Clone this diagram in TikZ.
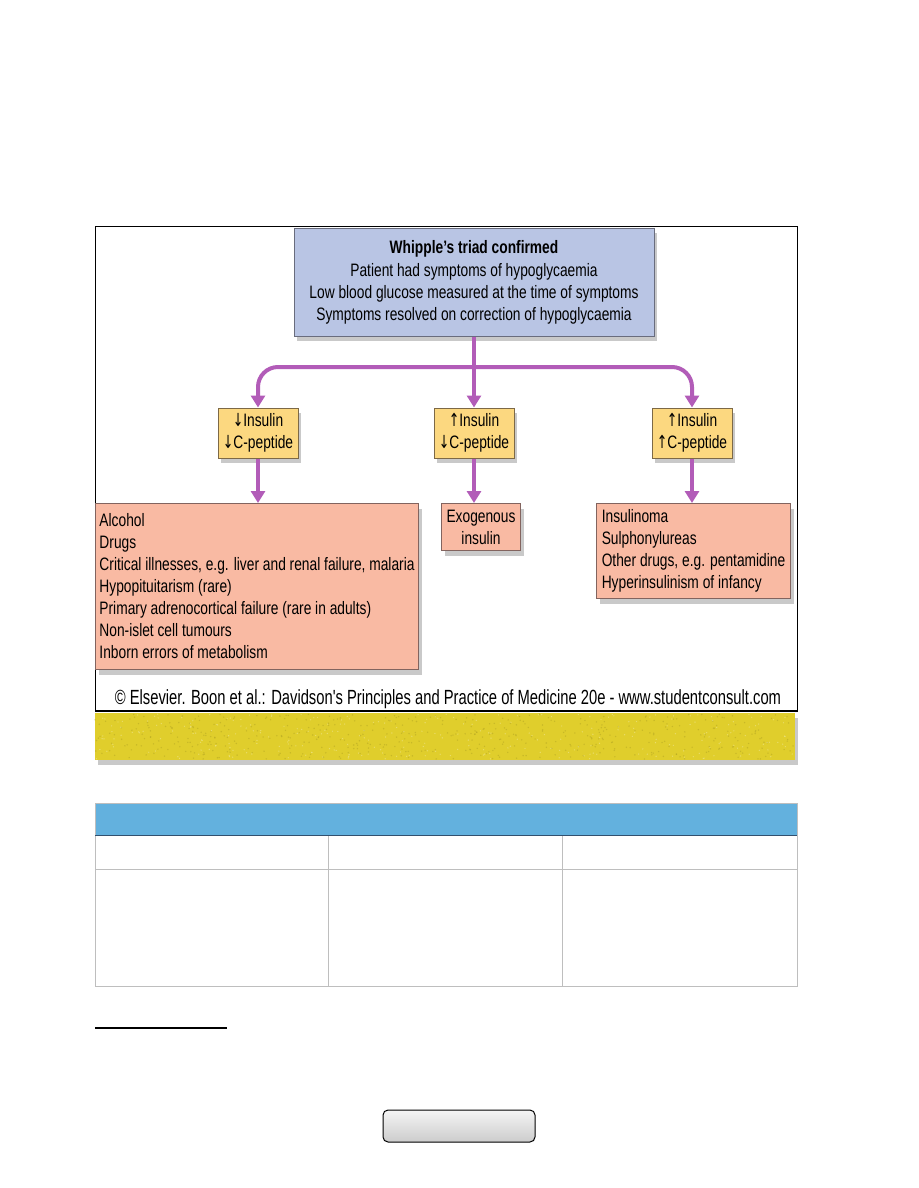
\documentclass[tikz,border=0pt]{standalone}
\usepackage{fontspec}
\setmainfont[FakeStretch=0.765]{Liberation Sans}
\newfontfamily\creditfont[FakeStretch=0.72]{Liberation Sans}
\newfontfamily\arrowfont[FakeStretch=0.7]{DejaVu Sans}
\newcommand\up{{\arrowfont ↑}}
\newcommand\dn{{\arrowfont ↓}}
\usetikzlibrary{arrows.meta,shadows}

\definecolor{triadfill}{RGB}{185,197,228}
\definecolor{triadline}{RGB}{105,108,125}
\definecolor{levelfill}{RGB}{252,216,128}
\definecolor{levelline}{RGB}{125,105,70}
\definecolor{causefill}{RGB}{249,186,163}
\definecolor{causeline}{RGB}{130,100,95}
\definecolor{linkpurple}{RGB}{178,92,184}
\definecolor{banneryellow}{RGB}{224,206,44}
\definecolor{headblue}{RGB}{99,177,222}
\definecolor{headline}{RGB}{50,80,110}
\definecolor{gridgray}{RGB}{190,190,190}

\tikzset{
  boxshadow/.style={drop shadow={shadow xshift=3pt,shadow yshift=-5pt,opacity=0.3,fill=black!70}},
  triadbox/.style={draw=triadline,fill=triadfill,line width=1pt,boxshadow,
    minimum width=360,minimum height=108,inner sep=0,align=center},
  levelbox/.style={draw=levelline,fill=levelfill,line width=1pt,boxshadow,
    minimum width=80,minimum height=50,inner sep=0,align=center},
  causebox/.style={draw=causeline,fill=causefill,line width=1pt,boxshadow,
    inner sep=0,align=left},
  link/.style={draw=linkpurple,line width=4pt,-{Triangle[length=12pt,width=14pt]}},
  button/.style={draw=black,line width=1pt,rounded corners=5pt,
    top color=gray!8,bottom color=gray!40,minimum width=152,minimum height=32}
}

\begin{document}
\begin{tikzpicture}[x=1pt,y=-1pt,font=\fontsize{18}{22}\selectfont]
\useasboundingbox (0,0) rectangle (918,1188);

% figure frame
\draw[line width=1pt] (95,226) rectangle (797,711);
\draw[line width=2pt] (95,711) -- (797,711);

\node (triad) [triadbox] at (474,282)
  {\textbf{Whipple’s triad confirmed}\\[1pt]
   Patient had symptoms of hypoglycaemia\\
   Low blood glucose measured at the time of symptoms\\
   Symptoms resolved on correction of hypoglycaemia};

\node (ins1) [levelbox] at (258,433) {\dn Insulin\\\dn C-peptide};
\node (ins2) [levelbox] at (474,433) {\up Insulin\\\dn C-peptide};
\node (ins3) [levelbox] at (692,433) {\up Insulin\\\up C-peptide};

\node (lowall) [causebox,minimum width=323,minimum height=166,anchor=north west] at (95,503)
  {Alcohol\\
   Drugs\\
   Critical illnesses, e.g. liver and renal failure, malaria\\
   Hypopituitarism (rare)\\
   Primary adrenocortical failure (rare in adults)\\
   Non-islet cell tumours\\
   Inborn errors of metabolism};
\node (exo) [causebox,align=center,minimum width=79,minimum height=47,anchor=north west] at (441,503)
  {Exogenous\\insulin};
\node (endo) [causebox,minimum width=194,minimum height=95,anchor=north west] at (596,503)
  {Insulinoma\\
   Sulphonylureas\\
   Other drugs, e.g. pentamidine\\
   Hyperinsulinism of infancy};

% branching connectors
\coordinate (fork) at (474,367);
\draw[link,-] (triad.south) -- (fork);
\draw[link,rounded corners=20pt] (fork) -| (ins1.north);
\draw[link,rounded corners=20pt] (fork) -| (ins3.north);
\draw[link] (fork) -- (ins2.north);

\draw[link] (ins1.south) -- (ins1.south |- lowall.north);
\draw[link] (ins2.south) -- (ins2.south |- exo.north);
\draw[link] (ins3.south) -- (ins3.south |- endo.north);

\node (credit) [font=\creditfont\fontsize{20.5}{22}\selectfont] at (448,699)
  {© Elsevier. Boon et al.: Davidson's Principles and Practice of Medicine 20e - www.studentconsult.com};

% yellow banner, speckled
\path[fill=banneryellow,boxshadow] (95,713) rectangle (795,760);
\pgfmathsetseed{7}
\foreach \i in {1,...,500}
  \fill[banneryellow!70!black,opacity=0.35] (95+700*rnd,714+45*rnd) circle (0.8);
\foreach \i in {1,...,300}
  \fill[white,opacity=0.3] (95+700*rnd,714+45*rnd) circle (0.7);

% empty table
\fill[headblue] (95,803) rectangle (797,835);
\draw[gridgray] (95,803) rectangle (797,986);
\draw[gridgray] (95,869) -- (797,869);
\foreach \x in {328,562}
  \draw[gridgray] (\x,835) -- (\x,986);
\draw[headline,line width=1pt] (95,835) -- (797,835);

\draw[line width=2pt] (95,1028) -- (227,1028);

\node (nextbtn) [button] at (459,1126) {};
\end{tikzpicture}
\end{document}
